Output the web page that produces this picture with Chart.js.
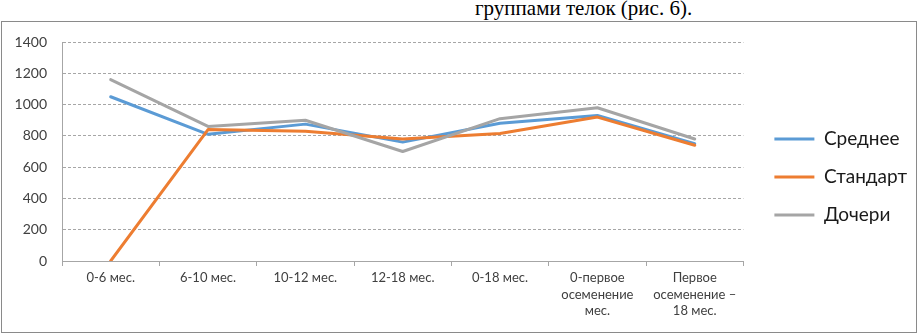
<!DOCTYPE html>
<html lang="ru">
<head>
<meta charset="utf-8">
<title>Рис. 6</title>
<script src="https://cdn.jsdelivr.net/npm/chart.js@4/dist/chart.umd.min.js"></script>
<style>
  html, body { margin: 0; padding: 0; background: #fff; }
  body { width: 920px; height: 334px; position: relative; overflow: hidden; }
  .caption {
    position: absolute; left: 475px; top: -4px;
    font: 21px "Liberation Serif", "Times New Roman", serif; line-height: 24px;
    color: #000; white-space: nowrap;
  }
  .frame {
    position: absolute; left: 1px; top: 21px; width: 914px; height: 310px;
    border: 1px solid #8a8a8a; box-sizing: content-box;
  }
  #chartWrap { position: absolute; left: 0; top: 0; width: 920px; height: 334px; }
</style>
</head>
<body>
<div class="caption">группами телок (рис. 6).</div>
<div class="frame"></div>
<div id="chartWrap"><canvas id="growthChart"></canvas></div>

<script>
// периоды выращивания
const categories = [
  '0-6 мес.',
  '6-10 мес.',
  '10-12 мес.',
  '12-18 мес.',
  '0-18 мес.',
  ['0-первое', 'осеменение', 'мес.'],
  ['Первое', 'осеменение –', '18 мес.']
];
const seriesNames = ['Среднее', 'Стандарт', 'Дочери'];
const avgValues = [1050, 810, 875, 760, 880, 930, 750];
const standardValues = [0, 840, 830, 780, 815, 920, 740];
const daughterValues = [1160, 860, 900, 700, 910, 980, 780];
const yTicks = [0, 200, 400, 600, 800, 1000, 1200, 1400];

const seriesColors = ['#5b9bd5', '#ed7d31', '#a5a5a5'];

// сдвиг легенды (как в Excel: чуть правее и выше центра)
const legendShift = {
  id: 'legendShift',
  afterLayout(chart) {
    const lg = chart.legend;
    if (!lg) return;
    lg.left += 12;
    lg.right += 12;
    lg.top -= 11;
    lg.bottom -= 11;
  }
};

function makeDataset(label, data, idx) {
  return {
    label: label,
    data: data,
    borderColor: seriesColors[idx],
    backgroundColor: seriesColors[idx],
    borderWidth: 3,
    pointRadius: 0,
    tension: 0,
    borderJoinStyle: 'round',
    borderCapStyle: 'round',
    order: 2 - idx
  };
}

function renderChart() {
  const ctx = document.getElementById('growthChart');

  new Chart(ctx, {
    type: 'line',
    data: {
      labels: categories,
      datasets: [
        makeDataset(seriesNames[0], avgValues, 0),
        makeDataset(seriesNames[1], standardValues, 1),
        makeDataset(seriesNames[2], daughterValues, 2)
      ]
    },
    options: {
      responsive: true,
      maintainAspectRatio: false,
      animation: false,
      layout: { padding: { left: 0, top: 42, right: 15, bottom: 0 } },
      plugins: {
        tooltip: { enabled: false },
        legend: {
          position: 'right',
          align: 'center',
          labels: {
            usePointStyle: true,
            pointStyle: 'line',
            pointStyleWidth: 40,
            padding: 19,
            color: '#1a1a1a',
            font: { family: 'Lato', size: 19 },
            sort: (a, b) => a.datasetIndex - b.datasetIndex
          }
        }
      },
      scales: {
        x: {
          offset: true,
          grid: {
            offset: true,
            drawOnChartArea: false,
            drawTicks: true,
            tickLength: 5,
            color: '#a6a6a6'
          },
          border: { display: true, color: '#a6a6a6', width: 1 },
          ticks: {
            autoSkip: false,
            maxRotation: 0,
            padding: 3,
            color: '#404040',
            font: { family: 'Lato', size: 13, lineHeight: 1.3 }
          },
          afterFit(scale) { scale.height = 73; }
        },
        y: {
          min: 0,
          max: 1400,
          afterBuildTicks(scale) {
            scale.ticks = yTicks.map(v => ({ value: v }));
          },
          grid: {
            drawTicks: false,
            color: '#a6a6a6',
            lineWidth: 1
          },
          border: { display: true, color: '#a6a6a6', width: 1, dash: [3, 2] },
          ticks: {
            padding: 15,
            color: '#404040',
            font: { family: 'Lato', size: 14 },
            callback: v => String(v)
          },
          afterFit(scale) { scale.width = 62; }
        }
      }
    },
    plugins: [legendShift]
  });
}

renderChart();
</script>
</body>
</html>
